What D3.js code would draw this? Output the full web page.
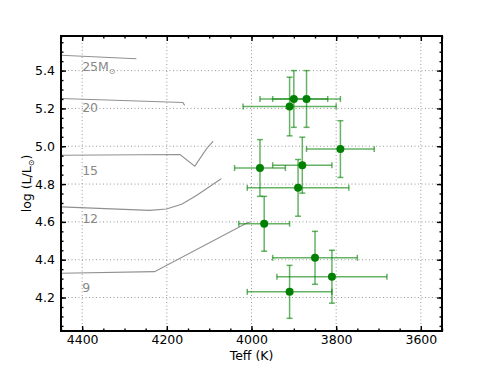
<!DOCTYPE html>
<html>
<head>
<meta charset="utf-8">
<script src="https://cdn.jsdelivr.net/npm/d3@7"></script>
<style>
    body { margin: 0; background: #fff; }
    svg { font-family: "DejaVu Sans", sans-serif; }
    .grid line { stroke: #999; stroke-dasharray: 1, 2.5; stroke-width: 1; }
</style>
</head>
<body>
<svg width="491" height="368"></svg>
<script>
// observed stars: Teff, log L and their errors
const teff    = [3900, 3870, 3910, 3790, 3980, 3880, 3890, 3970, 3850, 3810, 3910];
const teffErr = [80,   80,   110,  80,   60,   70,   120,  60,   100,  130,  100];
const logL    = [5.25, 5.25, 5.21, 4.985, 4.885, 4.90, 4.78, 4.59, 4.41, 4.31, 4.23];
const logLErr = [0.15, 0.15, 0.155, 0.15, 0.15, 0.148, 0.15, 0.145, 0.14, 0.14, 0.14];

// evolutionary tracks (mass in Msun)
const trackMass = ["25", "20", "15", "12", "9"];
const trackT = [
    [4460, 4272],
    [4460, 4162, 4158],
    [4460, 4169, 4134, 4106, 4094, 4091],
    [4460, 4241, 4201, 4165, 4130, 4075, 4071],
    [4460, 4229, 4011, 4004]
];
const trackL = [
    [5.482, 5.463],
    [5.253, 5.231, 5.216],
    [4.952, 4.956, 4.895, 4.987, 5.018, 5.027],
    [4.680, 4.661, 4.668, 4.693, 4.740, 4.823, 4.829],
    [4.328, 4.337, 4.594, 4.599]
];
const labelL = [5.4, 5.18, 4.85, 4.595, 4.23];

const xTicks = [4400, 4200, 4000, 3800, 3600];
const yTicks = [4.2, 4.4, 4.6, 4.8, 5.0, 5.2, 5.4];

const pLeft = 61, pRight = 442, pTop = 36, pBottom = 331;

let svg = d3.select("svg");

let x = d3.scaleLinear().domain([4450, 3550]).range([pLeft, pRight]);
let y = d3.scaleLinear().domain([4.023, 5.583]).range([pBottom, pTop]);

svg.append("clipPath").attr("id", "clip")
    .append("rect")
    .attr("x", pLeft).attr("y", pTop)
    .attr("width", pRight - pLeft).attr("height", pBottom - pTop);

// dotted grid at major ticks
let grid = svg.append("g").attr("class", "grid");
grid.selectAll(".gx")
    .data(xTicks)
    .enter().append("line")
    .attr("x1", d => x(d)).attr("x2", d => x(d))
    .attr("y1", pTop).attr("y2", pBottom);
grid.selectAll(".gy")
    .data(yTicks)
    .enter().append("line")
    .attr("x1", pLeft).attr("x2", pRight)
    .attr("y1", d => y(d)).attr("y2", d => y(d));

// tracks
let plot = svg.append("g").attr("clip-path", "url(#clip)");
let line = d3.line().x(d => x(d[0])).y(d => y(d[1]));
for (let i = 0; i < trackT.length; i++) {
    let pts = trackT[i].map((t, j) => [t, trackL[i][j]]);
    plot.append("path")
        .attr("d", line(pts))
        .attr("fill", "none")
        .attr("stroke", "#909090")
        .attr("stroke-width", 1.1);
}

// track labels
for (let i = 0; i < trackMass.length; i++) {
    let t = svg.append("text")
        .attr("x", x(4400))
        .attr("y", y(labelL[i]))
        .attr("fill", "#888")
        .attr("font-size", 12.5)
        .text(trackMass[i]);
    if (i === 0) {
        t.append("tspan").text("M");
        t.append("tspan").attr("font-size", 8).attr("dy", 3).text("\u2299");
    }
}

// error bars
let errColor = "rgba(0,128,0,0.6)";
let cap = 3;
let eb = svg.append("g")
    .attr("stroke", errColor)
    .attr("stroke-width", 1.5)
    .attr("fill", "none");
for (let i = 0; i < teff.length; i++) {
    let cx = x(teff[i]), cy = y(logL[i]);
    let x0 = x(teff[i] + teffErr[i]), x1 = x(teff[i] - teffErr[i]);
    let y0 = y(logL[i] - logLErr[i]), y1 = y(logL[i] + logLErr[i]);
    eb.append("line").attr("x1", x0).attr("x2", x1).attr("y1", cy).attr("y2", cy);
    eb.append("line").attr("x1", cx).attr("x2", cx).attr("y1", y0).attr("y2", y1);
    eb.append("line").attr("x1", x0).attr("x2", x0).attr("y1", cy - cap).attr("y2", cy + cap);
    eb.append("line").attr("x1", x1).attr("x2", x1).attr("y1", cy - cap).attr("y2", cy + cap);
    eb.append("line").attr("x1", cx - cap).attr("x2", cx + cap).attr("y1", y0).attr("y2", y0);
    eb.append("line").attr("x1", cx - cap).attr("x2", cx + cap).attr("y1", y1).attr("y2", y1);
}

svg.selectAll(".pt")
    .data(teff)
    .enter().append("circle")
    .attr("cx", (d, i) => x(d))
    .attr("cy", (d, i) => y(logL[i]))
    .attr("r", 4)
    .attr("fill", "#008000");

// axes, ticks pointing inward on all four sides
let xMinor = d3.range(3550, 4451, 50);
let yMinor = d3.range(4.05, 5.58, 0.05);

function styleAxis(g) {
    g.selectAll(".domain").remove();
    g.selectAll("line").attr("stroke", "#000").attr("stroke-width", 1.4);
    g.selectAll("text").attr("font-size", 12.5).attr("fill", "#000")
        .attr("font-family", "DejaVu Sans, sans-serif");
}

svg.append("g").attr("transform", `translate(0,${pBottom})`)
    .call(d3.axisBottom(x).tickValues(xMinor).tickSize(-2.5).tickFormat(""))
    .call(styleAxis);
svg.append("g").attr("transform", `translate(0,${pBottom})`)
    .call(d3.axisBottom(x).tickValues(xTicks).tickSize(-5).tickPadding(4).tickFormat(d3.format("d")))
    .call(styleAxis);
svg.append("g").attr("transform", `translate(0,${pTop})`)
    .call(d3.axisTop(x).tickValues(xMinor).tickSize(-2.5).tickFormat(""))
    .call(styleAxis);
svg.append("g").attr("transform", `translate(0,${pTop})`)
    .call(d3.axisTop(x).tickValues(xTicks).tickSize(-5).tickFormat(""))
    .call(styleAxis);

svg.append("g").attr("transform", `translate(${pLeft},0)`)
    .call(d3.axisLeft(y).tickValues(yMinor).tickSize(-2.5).tickFormat(""))
    .call(styleAxis);
svg.append("g").attr("transform", `translate(${pLeft},0)`)
    .call(d3.axisLeft(y).tickValues(yTicks).tickSize(-5).tickPadding(6).tickFormat(d3.format(".1f")))
    .call(styleAxis);
svg.append("g").attr("transform", `translate(${pRight},0)`)
    .call(d3.axisRight(y).tickValues(yMinor).tickSize(-2.5).tickFormat(""))
    .call(styleAxis);
svg.append("g").attr("transform", `translate(${pRight},0)`)
    .call(d3.axisRight(y).tickValues(yTicks).tickSize(-5).tickFormat(""))
    .call(styleAxis);

// frame
svg.append("rect")
    .attr("x", pLeft).attr("y", pTop)
    .attr("width", pRight - pLeft).attr("height", pBottom - pTop)
    .attr("fill", "none")
    .attr("stroke", "#000")
    .attr("stroke-width", 2);

// axis titles
svg.append("text")
    .attr("x", (pLeft + pRight) / 2)
    .attr("y", 360)
    .attr("text-anchor", "middle")
    .attr("font-size", 12.5)
    .text("Teff (K)");

let yl = svg.append("text")
    .attr("transform", `translate(31,${(pTop + pBottom) / 2}) rotate(-90)`)
    .attr("text-anchor", "middle")
    .attr("font-size", 12.5);
yl.append("tspan").text("log (L/L");
yl.append("tspan").attr("font-size", 8).attr("dy", 3).text("\u2299");
yl.append("tspan").attr("dy", -3).text(")");
</script>
</body>
</html>
